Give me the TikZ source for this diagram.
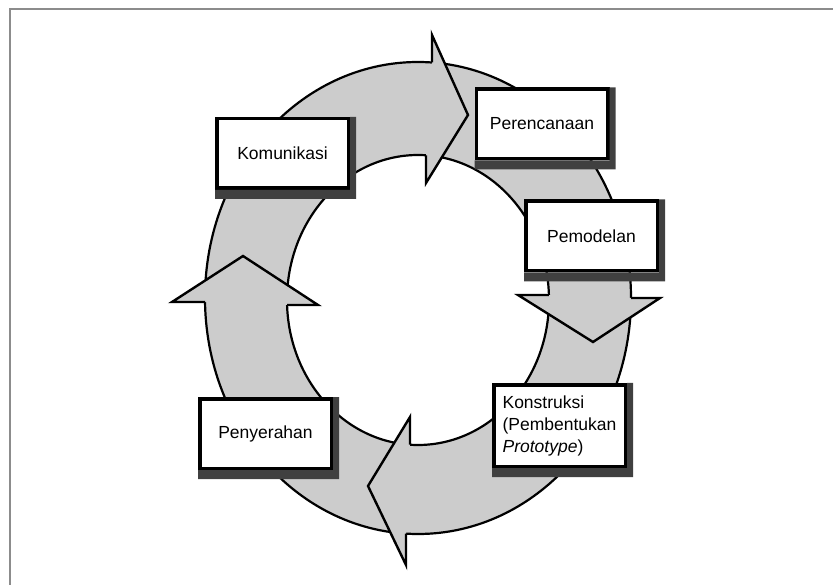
\documentclass[tikz,border=0pt]{standalone}
\usepackage{fontspec}
\setmainfont{Liberation Sans}
\usepackage{xcolor}
\definecolor{RingCol}{RGB}{204,204,204}
\definecolor{ShadowCol}{RGB}{64,64,64}
\definecolor{FrameCol}{RGB}{140,140,140}
\usepackage{tikz}
\tikzstyle{Ring}=[fill=RingCol,draw=black,line width=2.2pt,even odd rule]
\tikzstyle{Head}=[draw=black,line width=2.4pt,line join=miter]
\tikzstyle{Phase}=[rectangle,draw=black,fill=white,line width=3.5pt,
inner sep=0pt,minimum width=131.5pt,minimum height=69.5pt,
font=\fontsize{17.5}{22}\selectfont]
\tikzstyle{Frame}=[draw=FrameCol,line width=2pt]
% shadow strip on the right and below a box
\newcommand{\PhaseShadow}[1]{\fill[ShadowCol](#1.north east)
    -|([shift={(6,9)}]#1.south east)-|(#1.south west)
    --(#1.south east)--cycle;}
% arrow head laid over the ring: ring point, corner, tip, corner, ring point
\newcommand{\RingHead}[5]{\fill[RingCol]#1--#2--#3--#4--#5--cycle;
    \draw[Head]#1--#2--#3--#4--#5;}

\begin{document}
\begin{tikzpicture}[x=1pt,y=-1pt]
    \useasboundingbox (0,0) rectangle (833,585);
    \draw[Frame] (9.5,585) |- (833,9.5);
    % ring
    \path[Ring] (418,298) ellipse [x radius=213,y radius=236]
        (418,300) ellipse [x radius=131,y radius=145];
    \RingHead{(432,62.5)}{(432,35)}{(468,115)}{(426,183)}{(426,155.3)}
    \RingHead{(631,298)}{(660,298)}{(593,342)}{(518,295)}{(548.9,295)}
    \RingHead{(406,533.6)}{(406,565)}{(368,486)}{(410,417)}{(410,444.7)}
    \RingHead{(205,302)}{(172,302)}{(243,256)}{(318,305)}{(287.1,305)}
    % phases
    \node[Phase](kom)at(282.5,153.5){Komunikasi};
    \node[Phase](per)at(542,124){Perencanaan};
    \node[Phase](pem)at(591.5,236){Pemodelan};
    \node[Phase,minimum height=81.5pt,align=left](kon)at(559.5,425.5)
        {Konstruksi\\(Pembentukan\\\textit{Prototype})};
    \node[Phase](pen)at(265.5,433.5){Penyerahan};
    \PhaseShadow{kom}
    \PhaseShadow{per}
    \PhaseShadow{pem}
    \PhaseShadow{kon}
    \PhaseShadow{pen}
\end{tikzpicture}
\end{document}
